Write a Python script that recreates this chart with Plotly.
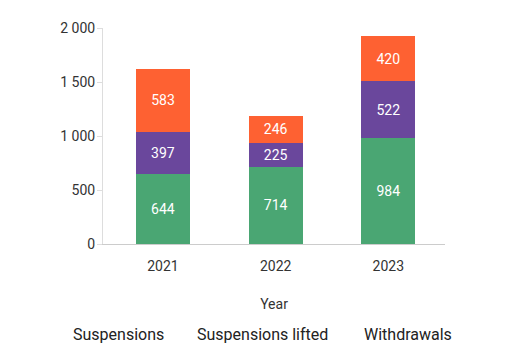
import plotly.graph_objects as go

years = ["2021", "2022", "2023"]
suspensions = [644, 714, 984]
suspensions_lifted = [397, 225, 522]
withdrawals = [583, 246, 420]
series_names = ["Suspensions", "Suspensions lifted", "Withdrawals"]
colors = ["#4aa673", "#6a479c", "#fe6132"]
ytick_vals = [0, 500, 1000, 1500, 2000]
ytick_text = ["0", "500", "1 000", "1 500", "2 000"]

fig = go.Figure()
for name, vals, c in zip(series_names, [suspensions, suspensions_lifted, withdrawals], colors):
    fig.add_trace(go.Bar(
        x=years, y=vals, name=name, marker=dict(color=c, line=dict(width=0)),
        text=[str(v) for v in vals], textposition="inside", insidetextanchor="middle",
        textfont=dict(color="white", size=14, family="Roboto"),
        showlegend=False,
    ))

legend_x = [0.044, 0.465, 0.892]
for name, lx in zip(series_names, legend_x):
    fig.add_annotation(text=name, x=lx, y=-0.42, xref="paper", yref="paper",
                       showarrow=False, xanchor="center", yanchor="middle",
                       font=dict(size=16, color="#222", family="Roboto"))

fig.update_layout(
    width=513, height=361,
    barmode="stack", bargap=0.52,
    margin=dict(l=95, r=76, t=16, b=125),
    paper_bgcolor="white", plot_bgcolor="white",
    font=dict(family="Roboto", color="#333", size=14),
    uniformtext=dict(minsize=8, mode="show"),
    xaxis=dict(
        range=[-0.532, 2.503],
        title=dict(text="Year", font=dict(size=14, color="#333"), standoff=26),
        showline=True, linecolor="#cccccc", linewidth=1, ticks="", showgrid=False,
        tickfont=dict(size=14, color="#333"), ticklabelstandoff=9,
    ),
    yaxis=dict(
        range=[0, 2000], tickvals=ytick_vals, ticktext=ytick_text,
        showline=True, linecolor="#dddddd", linewidth=1, ticks="outside",
        tickcolor="#dddddd", ticklen=5, showgrid=False, zeroline=False,
        tickfont=dict(size=14, color="#333"), ticklabelstandoff=-1,
    ),
)

fig.write_html("out.html")
